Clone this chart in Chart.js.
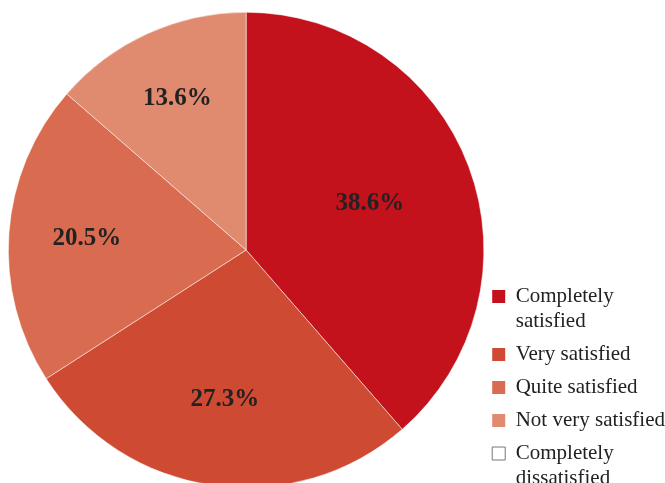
<!DOCTYPE html>
<html>
<head>
<meta charset="utf-8">
<script src="https://cdn.jsdelivr.net/npm/chart.js@4/dist/chart.umd.min.js"></script>
<style>
  html, body { margin: 0; padding: 0; background: #fff; overflow: hidden; }
  #wrap { width: 665px; height: 483px; overflow: hidden; }
</style>
</head>
<body>
<div id="wrap"><canvas id="satChart" width="675" height="500"></canvas></div>
<script>
// satisfaction shares (%)
const categories = [
  ['Completely', 'satisfied'],
  ['Very satisfied'],
  ['Quite satisfied'],
  ['Not very satisfied'],
  ['Completely', 'dissatisfied']
];
const shares = [38.6, 27.3, 20.5, 13.6, 0];
const sliceColors = ['#c4121d', '#cf4a33', '#d96b50', '#e08a70', '#ffffff'];

// percentage labels inside the slices, near the slice centroid
const sliceLabels = {
  id: 'sliceLabels',
  afterDatasetsDraw(chart) {
    const ctx = chart.ctx;
    const meta = chart.getDatasetMeta(0);
    ctx.save();
    ctx.font = 'bold 25px "Liberation Serif", serif';
    ctx.fillStyle = '#222';
    ctx.textAlign = 'center';
    ctx.textBaseline = 'middle';
    meta.data.forEach((arc, i) => {
      const v = shares[i];
      if (!v) return;
      const a = arc.endAngle - arc.startAngle;
      const mid = (arc.startAngle + arc.endAngle) / 2;
      const r = 1.08 * 4 * arc.outerRadius * Math.sin(a / 2) / (3 * a);
      ctx.fillText(v.toFixed(1) + '%', arc.x + r * Math.cos(mid), arc.y + r * Math.sin(mid));
    });
    ctx.restore();
  }
};

// the original legend hangs a little below the pie's bottom edge
const legendDrop = {
  id: 'legendDrop',
  afterLayout(chart) {
    chart.legend.top += 13;
    chart.legend.bottom += 13;
  }
};

new Chart(document.getElementById('satChart'), {
  type: 'pie',
  data: {
    labels: categories,
    datasets: [{
      data: shares,
      backgroundColor: sliceColors,
      borderColor: '#ffffff',
      borderWidth: 0.5
    }]
  },
  plugins: [sliceLabels, legendDrop],
  options: {
    responsive: false,
    devicePixelRatio: 1,
    animation: false,
    layout: { padding: { top: 12, bottom: 12, left: 8, right: 0 } },
    plugins: {
      tooltip: { enabled: false },
      legend: {
        position: 'right',
        align: 'end',
        labels: {
          color: '#222',
          font: { family: '"Liberation Serif", serif', size: 21, lineHeight: 1.19 },
          boxWidth: 13,
          boxHeight: 13,
          padding: 8,
          generateLabels(chart) {
            return categories.map((c, i) => ({
              text: c,
              fillStyle: sliceColors[i],
              strokeStyle: i === 4 ? '#777' : sliceColors[i],
              lineWidth: i === 4 ? 1 : 0,
              fontColor: '#222',
              hidden: false,
              index: i
            }));
          }
        }
      }
    }
  }
});
</script>
</body>
</html>
